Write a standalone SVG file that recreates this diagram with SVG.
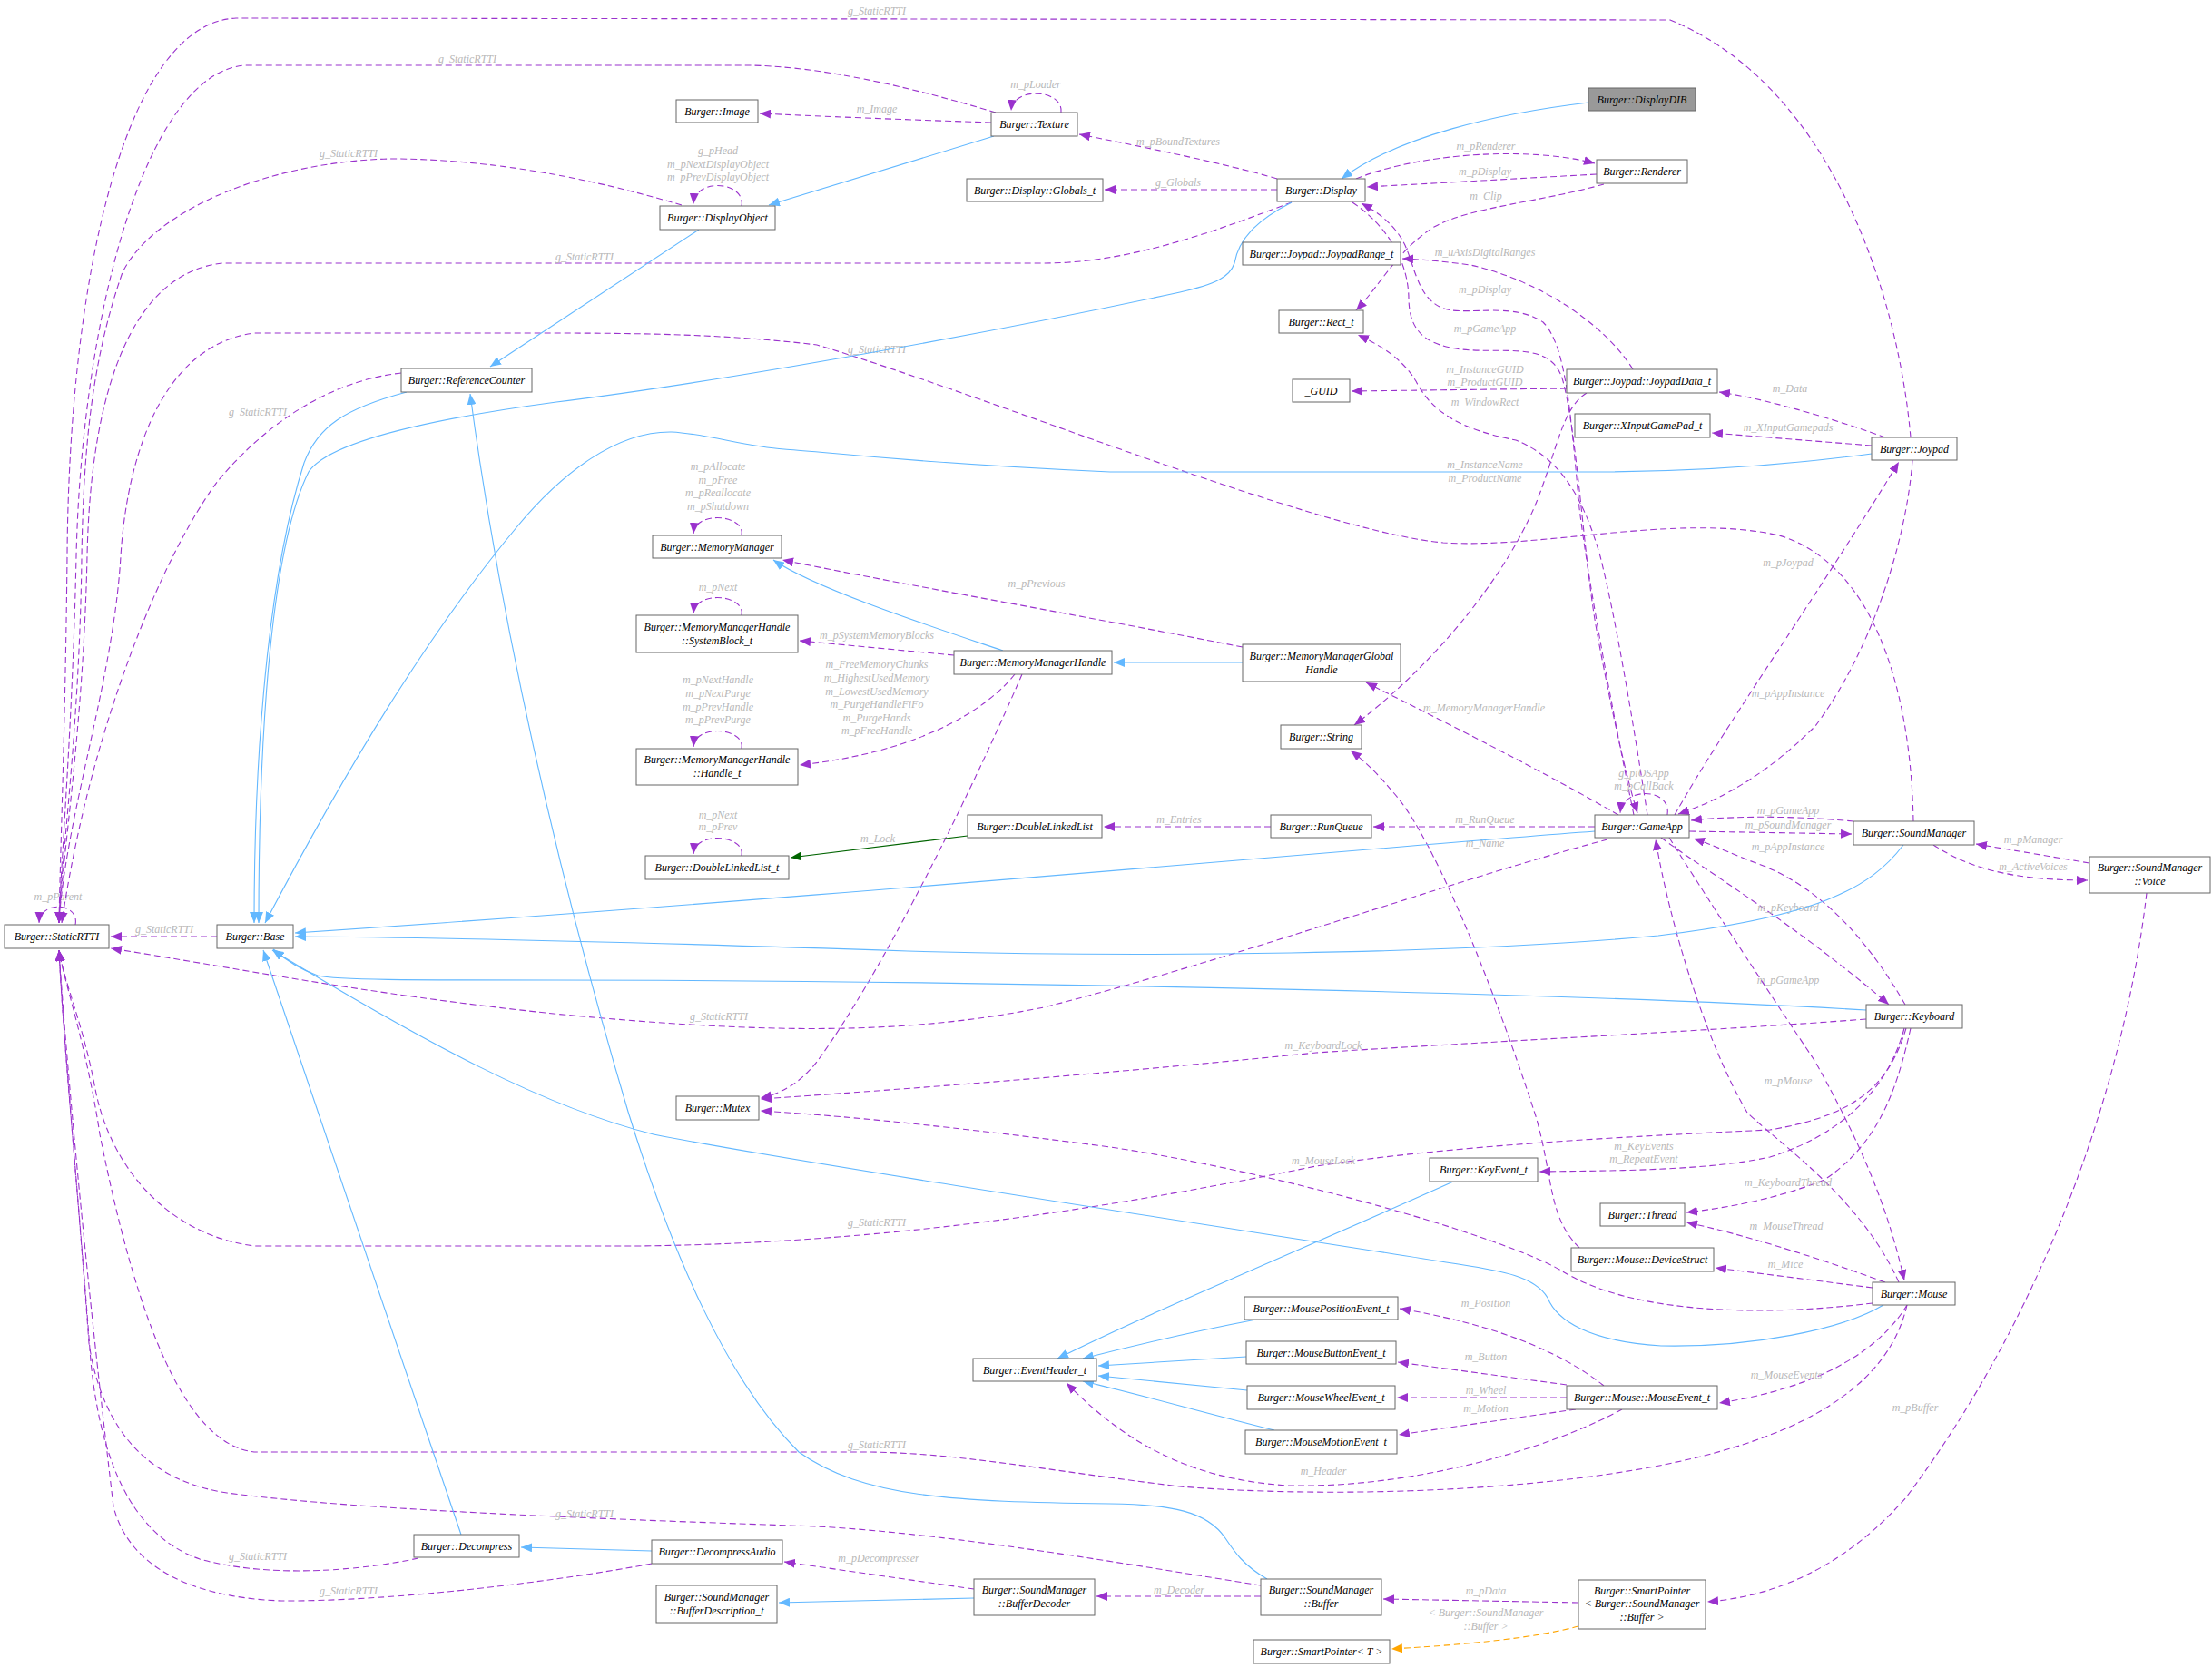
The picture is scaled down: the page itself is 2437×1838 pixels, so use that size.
<svg xmlns="http://www.w3.org/2000/svg" width="2437" height="1838" viewBox="0 0 2437 1838">
<style>
.node rect{fill:#fff;stroke:#666;stroke-width:1}
.node text{font-family:"Liberation Serif","DejaVu Serif",serif;font-style:italic;font-size:12px;fill:#000;text-anchor:middle}
.u{fill:none;stroke:#9a32cd;stroke-width:1.1;stroke-dasharray:7,4;marker-end:url(#mp)}
.i{fill:none;stroke:#63b8ff;stroke-width:1.1;marker-end:url(#mb)}
.g{fill:none;stroke:#006400;stroke-width:1.1;marker-end:url(#mg)}
.o{fill:none;stroke:#ffa500;stroke-width:1.1;stroke-dasharray:7,4;marker-end:url(#mo)}
.l{font-family:"Liberation Serif","DejaVu Serif",serif;font-style:italic;font-size:12px;fill:#b8b8b8;text-anchor:middle}
</style>
<defs>
<marker id="mp" viewBox="0 0 12 10" refX="12" refY="5" markerWidth="12" markerHeight="10" markerUnits="userSpaceOnUse" orient="auto"><path d="M0,0L12,5L0,10z" fill="#9a32cd"/></marker>
<marker id="mb" viewBox="0 0 12 10" refX="12" refY="5" markerWidth="12" markerHeight="10" markerUnits="userSpaceOnUse" orient="auto"><path d="M0,0L12,5L0,10z" fill="#63b8ff"/></marker>
<marker id="mg" viewBox="0 0 12 10" refX="12" refY="5" markerWidth="12" markerHeight="10" markerUnits="userSpaceOnUse" orient="auto"><path d="M0,0L12,5L0,10z" fill="#006400"/></marker>
<marker id="mo" viewBox="0 0 12 10" refX="12" refY="5" markerWidth="12" markerHeight="10" markerUnits="userSpaceOnUse" orient="auto"><path d="M0,0L12,5L0,10z" fill="#ffa500"/></marker>
</defs>
<rect x="0" y="0" width="2437" height="1838" fill="#fff"/>
<g id="edges">
<path class="u" d="M239,1032 L122,1032"/><text class="l" x="181" y="1028">g_StaticRTTI</text>
<path class="u" d="M83,1019 C88,994 44,992 43,1017"/><text class="l" x="64" y="992">m_pParent</text>
<path class="u" d="M2105,482 C2092,330 2020,95 1840,22 L260,20 C140,25 76,300 74,613 C72,800 66,950 65,1017"/><text class="l" x="966" y="16">g_StaticRTTI</text>
<path class="u" d="M1097,124 C1000,95 900,72 820,72 L270,72 C160,80 90,350 84,613 C80,800 67,950 65,1017"/><text class="l" x="515" y="69">g_StaticRTTI</text>
<path class="u" d="M751,226 C680,205 560,175 430,175 C300,178 170,230 135,300 C100,400 92,500 90,613 C88,800 67,950 65,1017"/><text class="l" x="384" y="173">g_StaticRTTI</text>
<path class="u" d="M1423,223 C1350,250 1250,290 1150,290 L245,290 C150,300 100,420 96,613 C92,800 68,950 65,1017"/><text class="l" x="644" y="287">g_StaticRTTI</text>
<path class="u" d="M2108,905 C2105,750 2060,620 1960,590 C1850,565 1700,605 1590,598 C1450,585 1100,440 900,380 C800,368 700,367 600,367 L280,367 C180,380 140,500 133,613 C125,750 72,900 65,1017"/><text class="l" x="966" y="389">g_StaticRTTI</text>
<path class="u" d="M442,411 C360,420 290,470 240,530 C180,610 100,800 68,1017"/><text class="l" x="284" y="458">g_StaticRTTI</text>
<path class="u" d="M1771,925 C1600,970 1350,1060 1150,1110 C1000,1140 850,1140 610,1117 C400,1095 250,1065 122,1045"/><text class="l" x="792" y="1124">g_StaticRTTI</text>
<path class="u" d="M2100,1133 C2080,1200 2040,1230 1950,1245 C1800,1252 1600,1262 1450,1285 C1250,1325 1000,1370 700,1373 L280,1373 C180,1360 120,1280 105,1200 C92,1130 70,1080 65,1047"/><text class="l" x="966" y="1351">g_StaticRTTI</text>
<path class="u" d="M2101,1438 C2080,1530 1980,1590 1800,1620 C1650,1645 1450,1650 1300,1638 C1150,1620 1050,1600 950,1600 L280,1600 C190,1590 140,1400 110,1250 C95,1150 70,1080 65,1047"/><text class="l" x="966" y="1596">g_StaticRTTI</text>
<path class="u" d="M1389,1747 C1250,1725 1050,1690 900,1682 C700,1675 400,1665 250,1645 C150,1630 110,1560 98,1480 C85,1300 70,1150 65,1047"/><text class="l" x="644" y="1672">g_StaticRTTI</text>
<path class="u" d="M461,1717 C400,1730 300,1740 220,1718 C140,1690 110,1600 100,1500 C85,1300 70,1150 65,1047"/><text class="l" x="284" y="1719">g_StaticRTTI</text>
<path class="u" d="M718,1723 C600,1745 420,1765 310,1764 C200,1760 140,1720 125,1660 C100,1450 75,1200 65,1047"/><text class="l" x="384" y="1757">g_StaticRTTI</text>
<path class="u" d="M1092,135 C1000,132 900,128 837,125"/><text class="l" x="966" y="124">m_Image</text>
<path class="u" d="M1169,124 C1172,98 1116,95 1114,122"/><text class="l" x="1141" y="97">m_pLoader</text>
<path class="u" d="M1407,197 C1350,180 1250,160 1189,148"/><text class="l" x="1298" y="160">m_pBoundTextures</text>
<path class="u" d="M1407,209 L1217,209"/><text class="l" x="1298" y="205">g_Globals</text>
<path class="u" d="M817,227 C822,200 766,195 764,225"/><text class="l" x="791" y="170">g_pHead</text><text class="l" x="791" y="185">m_pNextDisplayObject</text><text class="l" x="791" y="199">m_pPrevDisplayObject</text>
<path class="u" d="M1494,197 C1560,170 1680,160 1757,180"/><text class="l" x="1637" y="165">m_pRenderer</text>
<path class="u" d="M1759,192 L1506,206"/><text class="l" x="1636" y="193">m_pDisplay</text>
<path class="u" d="M1767,203 C1700,222 1620,228 1580,250 C1540,275 1520,315 1494,342"/><text class="l" x="1637" y="220">m_Clip</text>
<path class="u" d="M1799,407 C1770,360 1700,310 1620,292 C1590,288 1570,286 1545,285"/><text class="l" x="1636" y="282">m_uAxisDigitalRanges</text>
<path class="u" d="M1800,898 C1770,750 1750,640 1740,560 C1730,450 1725,380 1700,355 C1670,335 1630,345 1600,342 C1565,338 1560,300 1550,275 C1540,250 1520,235 1500,224"/><text class="l" x="1636" y="323">m_pDisplay</text>
<path class="u" d="M1490,223 C1530,250 1552,290 1552,330 C1553,365 1570,380 1610,385 C1660,390 1710,375 1722,420 C1738,480 1745,620 1760,700 C1775,780 1790,850 1804,896"/><text class="l" x="1636" y="366">m_pGameApp</text>
<path class="u" d="M1815,898 C1800,800 1780,680 1763,613 C1745,550 1720,505 1670,485 C1620,475 1580,460 1560,420 C1545,395 1520,380 1496,369"/><text class="l" x="1636" y="447">m_WindowRect</text>
<path class="u" d="M1726,428 L1489,431"/><text class="l" x="1636" y="411">m_InstanceGUID</text><text class="l" x="1636" y="425">m_ProductGUID</text>
<path class="u" d="M1748,433 C1720,450 1715,500 1690,560 C1650,650 1570,740 1492,799"/><text class="l" x="1636" y="516">m_InstanceName</text><text class="l" x="1636" y="531">m_ProductName</text>
<path class="u" d="M1740,1375 C1705,1340 1712,1300 1692,1230 C1650,1100 1580,920 1533,871 C1520,855 1505,840 1488,827"/><text class="l" x="1636" y="933">m_Name</text>
<path class="u" d="M2077,482 C2030,465 1950,440 1894,432"/><text class="l" x="1972" y="432">m_Data</text>
<path class="u" d="M2062,491 L1886,477"/><text class="l" x="1970" y="475">m_XInputGamepads</text>
<path class="u" d="M1845,898 C1900,800 2000,660 2092,509"/><text class="l" x="1970" y="624">m_pJoypad</text>
<path class="u" d="M2107,507 C2100,600 2060,720 2000,800 C1950,850 1900,880 1849,897"/><text class="l" x="1970" y="768">m_pAppInstance</text>
<path class="u" d="M1837,898 C1842,868 1788,866 1785,896"/><text class="l" x="1811" y="856">g_piOSApp</text><text class="l" x="1811" y="870">m_pCallBack</text>
<path class="u" d="M1783,898 C1700,850 1600,800 1505,752"/><text class="l" x="1635" y="784">m_MemoryManagerHandle</text>
<path class="u" d="M1757,911 L1513,911"/><text class="l" x="1636" y="907">m_RunQueue</text>
<path class="u" d="M1400,911 L1216,911"/><text class="l" x="1299" y="907">m_Entries</text>
<path class="u" d="M1861,916 L2040,919"/><text class="l" x="1970" y="913">m_pSoundManager</text>
<path class="u" d="M2042,905 C1990,900 1920,898 1863,904"/><text class="l" x="1970" y="897">m_pGameApp</text>
<path class="u" d="M2099,1107 C2060,1040 2010,980 1940,953 C1910,942 1890,932 1866,924"/><text class="l" x="1970" y="937">m_pAppInstance</text>
<path class="u" d="M1830,923 C1880,960 1980,1020 2081,1107"/><text class="l" x="1970" y="1004">m_pKeyboard</text>
<path class="u" d="M2092,1413 C2050,1320 1960,1260 1925,1226 C1880,1150 1840,1020 1824,925"/><text class="l" x="1970" y="1084">m_pGameApp</text>
<path class="u" d="M1839,923 C1900,1020 1960,1110 2000,1170 C2050,1260 2080,1330 2098,1411"/><text class="l" x="1970" y="1195">m_pMouse</text>
<path class="u" d="M2098,1133 C2080,1200 2030,1250 1950,1275 C1880,1290 1780,1290 1696,1291"/><text class="l" x="1811" y="1267">m_KeyEvents</text><text class="l" x="1811" y="1281">m_RepeatEvent</text>
<path class="u" d="M2105,1133 C2090,1200 2070,1260 2010,1300 C1960,1320 1910,1330 1858,1336"/><text class="l" x="1970" y="1307">m_KeyboardThread</text>
<path class="u" d="M2056,1123 C1900,1135 1600,1150 1450,1160 C1200,1185 1000,1200 838,1211"/><text class="l" x="1458" y="1156">m_KeyboardLock</text>
<path class="u" d="M2063,1436 C1950,1450 1800,1450 1720,1400 C1650,1360 1400,1290 1223,1264 C1000,1235 900,1228 838,1224"/><text class="l" x="1458" y="1283">m_MouseLock</text>
<path class="u" d="M2077,1413 C2000,1385 1920,1360 1858,1347"/><text class="l" x="1968" y="1355">m_MouseThread</text>
<path class="u" d="M2063,1419 L1890,1397"/><text class="l" x="1967" y="1397">m_Mice</text>
<path class="u" d="M2101,1438 C2070,1490 2000,1530 1894,1546"/><text class="l" x="1968" y="1519">m_MouseEvents</text>
<path class="u" d="M1767,1527 C1720,1490 1650,1460 1542,1442"/><text class="l" x="1637" y="1440">m_Position</text>
<path class="u" d="M1726,1526 L1540,1501"/><text class="l" x="1637" y="1499">m_Button</text>
<path class="u" d="M1726,1540 L1539,1540"/><text class="l" x="1637" y="1536">m_Wheel</text>
<path class="u" d="M1736,1553 L1541,1581"/><text class="l" x="1637" y="1556">m_Motion</text>
<path class="u" d="M1787,1553 C1700,1600 1550,1640 1420,1637 C1300,1630 1230,1580 1175,1524"/><text class="l" x="1458" y="1625">m_Header</text>
<path class="u" d="M1126,743 C1080,850 980,1060 900,1170 C880,1195 860,1205 838,1210"/>
<path class="u" d="M1051,722 L881,706"/><text class="l" x="966" y="704">m_pSystemMemoryBlocks</text>
<path class="u" d="M1118,743 C1080,790 1000,830 881,843"/><text class="l" x="966" y="736">m_FreeMemoryChunks</text><text class="l" x="966" y="751">m_HighestUsedMemory</text><text class="l" x="966" y="766">m_LowestUsedMemory</text><text class="l" x="966" y="780">m_PurgeHandleFiFo</text><text class="l" x="966" y="795">m_PurgeHands</text><text class="l" x="966" y="809">m_pFreeHandle</text>
<path class="u" d="M817,678 C822,655 766,650 764,676"/><text class="l" x="791" y="651">m_pNext</text>
<path class="u" d="M817,825 C822,802 766,797 764,823"/><text class="l" x="791" y="753">m_pNextHandle</text><text class="l" x="791" y="768">m_pNextPurge</text><text class="l" x="791" y="783">m_pPrevHandle</text><text class="l" x="791" y="797">m_pPrevPurge</text>
<path class="u" d="M817,943 C822,920 766,915 764,941"/><text class="l" x="791" y="902">m_pNext</text><text class="l" x="791" y="915">m_pPrev</text>
<path class="u" d="M817,590 C822,567 766,562 764,588"/><text class="l" x="791" y="518">m_pAllocate</text><text class="l" x="791" y="533">m_pFree</text><text class="l" x="791" y="547">m_pReallocate</text><text class="l" x="791" y="562">m_pShutdown</text>
<path class="u" d="M1369,713 C1200,680 1000,645 862,617"/><text class="l" x="1142" y="647">m_pPrevious</text>
<path class="u" d="M2130,931 C2160,950 2200,970 2300,970"/><text class="l" x="2240" y="959">m_ActiveVoices</text>
<path class="u" d="M2302,951 L2177,930"/><text class="l" x="2240" y="929">m_pManager</text>
<path class="u" d="M2365,984 C2340,1200 2250,1450 2100,1650 C2030,1730 1950,1760 1881,1765"/><text class="l" x="2110" y="1555">m_pBuffer</text>
<path class="u" d="M1739,1766 L1524,1762"/><text class="l" x="1637" y="1757">m_pData</text>
<path class="u" d="M1389,1759 L1208,1759"/><text class="l" x="1299" y="1756">m_Decoder</text>
<path class="u" d="M1073,1751 L864,1721"/><text class="l" x="968" y="1721">m_pDecompresser</text>
<path class="i" d="M1750,113 C1650,125 1540,150 1478,197"/>
<path class="i" d="M1423,223 C1390,240 1365,260 1360,290 C1355,305 1340,313 1300,322 C1100,365 800,420 613,443 C450,465 360,490 340,520 C300,600 285,800 285,1017"/>
<path class="i" d="M1095,150 L847,226"/>
<path class="i" d="M770,253 L540,404"/>
<path class="i" d="M448,432 C380,450 350,470 335,510 C300,620 280,800 280,1017"/>
<path class="i" d="M2062,500 C1950,515 1850,520 1750,520 L1223,520 C1000,510 900,497 864,495 C820,492 780,478 740,476 C680,475 620,520 570,580 C470,700 380,850 292,1017"/>
<path class="i" d="M1369,730 L1227,730"/>
<path class="i" d="M1105,717 C1040,695 900,650 852,617"/>
<path class="i" d="M1757,916 C1500,935 900,990 325,1028"/>
<path class="i" d="M2097,931 C2060,980 2000,1010 1827,1031 C1600,1052 1250,1055 1000,1048 C700,1038 500,1033 325,1032"/>
<path class="i" d="M2056,1113 C1700,1092 1000,1080 613,1080 C450,1080 370,1080 350,1075 C330,1068 315,1058 301,1046"/>
<path class="i" d="M2075,1438 C2030,1465 1930,1485 1830,1483 C1750,1478 1715,1455 1705,1430 C1690,1405 1650,1400 1600,1392 C1400,1360 900,1285 720,1250 C600,1220 470,1150 300,1047"/>
<path class="i" d="M508,1691 L290,1047"/>
<path class="i" d="M718,1709 L574,1705"/>
<path class="i" d="M1073,1761 L858,1766"/>
<path class="i" d="M1396,1740 C1370,1725 1360,1710 1350,1695 C1330,1665 1290,1658 1223,1657 C1050,1655 950,1650 880,1600 C800,1520 740,1380 692,1225 C640,1050 560,750 518,434"/>
<path class="i" d="M1601,1302 C1450,1370 1280,1440 1165,1497"/>
<path class="i" d="M1384,1454 C1300,1470 1240,1485 1193,1497"/>
<path class="i" d="M1373,1495 L1210,1505"/>
<path class="i" d="M1374,1532 L1210,1516"/>
<path class="i" d="M1404,1576 C1320,1555 1250,1535 1193,1522"/>
<path class="g" d="M1066,921 L871,945"/><text class="l" x="967" y="928">m_Lock</text>
<path class="o" d="M1739,1792 C1690,1805 1620,1812 1533,1817"/><text class="l" x="1637" y="1781">&lt; Burger::SoundManager</text><text class="l" x="1637" y="1796">::Buffer &gt;</text>
</g>
<g id="n-StaticRTTI" class="node"><rect x="5" y="1019" width="115" height="26"/><text x="62.5" y="1036">Burger::StaticRTTI</text></g>
<g id="n-Base" class="node"><rect x="239" y="1019" width="84" height="26"/><text x="281" y="1036">Burger::Base</text></g>
<g id="n-ReferenceCounter" class="node"><rect x="442" y="406" width="144" height="26"/><text x="514" y="423">Burger::ReferenceCounter</text></g>
<g id="n-Image" class="node"><rect x="745" y="110" width="90" height="25"/><text x="790" y="126.5">Burger::Image</text></g>
<g id="n-Texture" class="node"><rect x="1092" y="124" width="95" height="26"/><text x="1139.5" y="141">Burger::Texture</text></g>
<g id="n-DisplayObject" class="node"><rect x="727" y="227" width="127" height="26"/><text x="790.5" y="244">Burger::DisplayObject</text></g>
<g id="n-Globals" class="node"><rect x="1065" y="197" width="150" height="25"/><text x="1140" y="213.5">Burger::Display::Globals_t</text></g>
<g id="n-MemoryManager" class="node"><rect x="719" y="590" width="142" height="25"/><text x="790" y="606.5">Burger::MemoryManager</text></g>
<g id="n-DisplayDIB" class="node"><rect x="1750" y="97" width="118" height="25" style="fill:#999"/><text x="1809" y="113.5">Burger::DisplayDIB</text></g>
<g id="n-Display" class="node"><rect x="1407" y="197" width="97" height="25"/><text x="1455.5" y="213.5">Burger::Display</text></g>
<g id="n-Renderer" class="node"><rect x="1759" y="176" width="100" height="26"/><text x="1809" y="193">Burger::Renderer</text></g>
<g id="n-JoypadRange" class="node"><rect x="1369" y="267" width="174" height="25"/><text x="1456" y="283.5">Burger::Joypad::JoypadRange_t</text></g>
<g id="n-Rect" class="node"><rect x="1409" y="342" width="93" height="25"/><text x="1455.5" y="358.5">Burger::Rect_t</text></g>
<g id="n-GUID" class="node"><rect x="1424" y="418" width="63" height="25"/><text x="1455.5" y="434.5">_GUID</text></g>
<g id="n-JoypadData" class="node"><rect x="1726" y="407" width="166" height="26"/><text x="1809" y="424">Burger::Joypad::JoypadData_t</text></g>
<g id="n-XInputGamePad" class="node"><rect x="1735" y="456" width="149" height="26"/><text x="1809.5" y="473">Burger::XInputGamePad_t</text></g>
<g id="n-Joypad" class="node"><rect x="2062" y="482" width="94" height="25"/><text x="2109" y="498.5">Burger::Joypad</text></g>
<g id="n-SystemBlock" class="node"><rect x="701" y="678" width="178" height="41"/><text x="790" y="695">Burger::MemoryManagerHandle</text><text x="790" y="710">::SystemBlock_t</text></g>
<g id="n-MemoryManagerHandle" class="node"><rect x="1051" y="717" width="174" height="26"/><text x="1138" y="734">Burger::MemoryManagerHandle</text></g>
<g id="n-Handle" class="node"><rect x="701" y="825" width="178" height="40"/><text x="790" y="841">Burger::MemoryManagerHandle</text><text x="790" y="856">::Handle_t</text></g>
<g id="n-DoubleLinkedList" class="node"><rect x="1066" y="898" width="148" height="25"/><text x="1140" y="914.5">Burger::DoubleLinkedList</text></g>
<g id="n-DoubleLinkedList_t" class="node"><rect x="711" y="943" width="158" height="26"/><text x="790" y="960">Burger::DoubleLinkedList_t</text></g>
<g id="n-Mutex" class="node"><rect x="745" y="1208" width="91" height="26"/><text x="790.5" y="1225">Burger::Mutex</text></g>
<g id="n-MMGH" class="node"><rect x="1369" y="710" width="174" height="41"/><text x="1456" y="727">Burger::MemoryManagerGlobal</text><text x="1456" y="742">Handle</text></g>
<g id="n-String" class="node"><rect x="1411" y="799" width="89" height="26"/><text x="1455.5" y="816">Burger::String</text></g>
<g id="n-RunQueue" class="node"><rect x="1400" y="898" width="111" height="25"/><text x="1455.5" y="914.5">Burger::RunQueue</text></g>
<g id="n-GameApp" class="node"><rect x="1757" y="898" width="104" height="25"/><text x="1809" y="914.5">Burger::GameApp</text></g>
<g id="n-SoundManager" class="node"><rect x="2042" y="905" width="133" height="26"/><text x="2108.5" y="922">Burger::SoundManager</text></g>
<g id="n-Voice" class="node"><rect x="2302" y="944" width="133" height="40"/><text x="2368.5" y="960">Burger::SoundManager</text><text x="2368.5" y="975">::Voice</text></g>
<g id="n-Keyboard" class="node"><rect x="2056" y="1107" width="106" height="26"/><text x="2109" y="1124">Burger::Keyboard</text></g>
<g id="n-KeyEvent" class="node"><rect x="1575" y="1276" width="119" height="26"/><text x="1634.5" y="1293">Burger::KeyEvent_t</text></g>
<g id="n-Thread" class="node"><rect x="1763" y="1326" width="93" height="25"/><text x="1809.5" y="1342.5">Burger::Thread</text></g>
<g id="n-DeviceStruct" class="node"><rect x="1731" y="1375" width="157" height="26"/><text x="1809.5" y="1392">Burger::Mouse::DeviceStruct</text></g>
<g id="n-MousePositionEvent" class="node"><rect x="1371" y="1429" width="169" height="25"/><text x="1455.5" y="1445.5">Burger::MousePositionEvent_t</text></g>
<g id="n-MouseButtonEvent" class="node"><rect x="1373" y="1478" width="165" height="25"/><text x="1455.5" y="1494.5">Burger::MouseButtonEvent_t</text></g>
<g id="n-MouseWheelEvent" class="node"><rect x="1374" y="1527" width="163" height="26"/><text x="1455.5" y="1544">Burger::MouseWheelEvent_t</text></g>
<g id="n-MouseMotionEvent" class="node"><rect x="1372" y="1576" width="167" height="26"/><text x="1455.5" y="1593">Burger::MouseMotionEvent_t</text></g>
<g id="n-MouseEvent" class="node"><rect x="1726" y="1527" width="166" height="26"/><text x="1809" y="1544">Burger::Mouse::MouseEvent_t</text></g>
<g id="n-Buffer" class="node"><rect x="1389" y="1740" width="133" height="40"/><text x="1455.5" y="1756">Burger::SoundManager</text><text x="1455.5" y="1771">::Buffer</text></g>
<g id="n-SmartPointerBuffer" class="node"><rect x="1739" y="1741" width="140" height="54"/><text x="1809" y="1757">Burger::SmartPointer</text><text x="1809" y="1771">&lt; Burger::SoundManager</text><text x="1809" y="1786">::Buffer &gt;</text></g>
<g id="n-SmartPointerT" class="node"><rect x="1381" y="1807" width="150" height="26"/><text x="1456" y="1824">Burger::SmartPointer&lt; T &gt;</text></g>
<g id="n-Mouse" class="node"><rect x="2063" y="1413" width="91" height="25"/><text x="2108.5" y="1429.5">Burger::Mouse</text></g>
<g id="n-EventHeader" class="node"><rect x="1072" y="1497" width="136" height="25"/><text x="1140" y="1513.5">Burger::EventHeader_t</text></g>
<g id="n-DecompressAudio" class="node"><rect x="718" y="1697" width="144" height="26"/><text x="790" y="1714">Burger::DecompressAudio</text></g>
<g id="n-BufferDescription" class="node"><rect x="723" y="1747" width="133" height="41"/><text x="789.5" y="1764">Burger::SoundManager</text><text x="789.5" y="1779">::BufferDescription_t</text></g>
<g id="n-BufferDecoder" class="node"><rect x="1073" y="1740" width="133" height="40"/><text x="1139.5" y="1756">Burger::SoundManager</text><text x="1139.5" y="1771">::BufferDecoder</text></g>
<g id="n-Decompress" class="node"><rect x="456" y="1691" width="116" height="25"/><text x="514" y="1707.5">Burger::Decompress</text></g>
</svg>
